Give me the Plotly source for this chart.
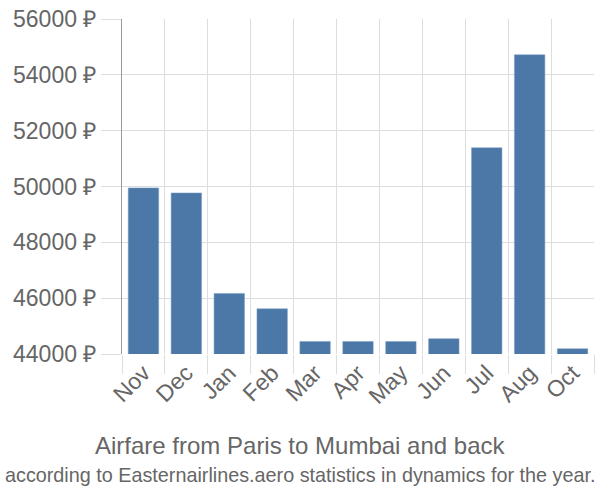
import plotly.graph_objects as go

months = ["Nov", "Dec", "Jan", "Feb", "Mar", "Apr", "May", "Jun", "Jul", "Aug", "Oct"]
prices = [49950, 49770, 46170, 45620, 44450, 44450, 44450, 44550, 51390, 54720, 44190]
y_ticks = [44000, 46000, 48000, 50000, 52000, 54000, 56000]
y_labels = [f"{v} ₽" for v in y_ticks]

fig = go.Figure(go.Bar(
    x=months, y=prices,
    marker=dict(color="#4c78a8", line=dict(color="#7f9fc4", width=0.5)),
    width=0.71,
))

font = "Liberation Sans, Arial, sans-serif"
L, R, T, B, W, H = 122, 6, 14, 146, 600, 500
fig.update_layout(
    width=W, height=H,
    margin=dict(l=L, r=R, t=T, b=B),
    plot_bgcolor="white", paper_bgcolor="white",
    font=dict(family=font, color="#666666", size=20),
    showlegend=False,
    xaxis=dict(
        tickson="boundaries", showgrid=True, gridcolor="#dddddd", gridwidth=1,
        ticks="outside", ticklen=19, tickcolor="#dddddd", tickangle=-45,
        tickfont=dict(size=23, color="#666666"), showline=False, zeroline=False,
    ),
    yaxis=dict(
        range=[44000, 56000], tickvals=y_ticks, ticktext=y_labels,
        showgrid=True, gridcolor="#dddddd", gridwidth=1,
        ticks="outside", ticklen=20, tickcolor="#dddddd",
        tickfont=dict(size=23, color="#666666"),
        showline=True, linecolor="#999999", linewidth=1, zeroline=False,
    ),
)
pw, ph = W - L - R, H - T - B
def px(x):
    return (x - L) / pw
def py(y):
    return (H - B - y) / ph
fig.update_layout(annotations=[
    dict(text="Airfare from Paris to Mumbai and back", x=px(300), y=py(446.5),
         xref="paper", yref="paper", showarrow=False, yanchor="middle",
         font=dict(size=24, color="#666666")),
    dict(text="according to Easternairlines.aero statistics in dynamics for the year.",
         x=px(300), y=py(476.5), xref="paper", yref="paper", showarrow=False,
         yanchor="middle", font=dict(size=19.8, color="#666666")),
])
fig.write_html("out.html")
